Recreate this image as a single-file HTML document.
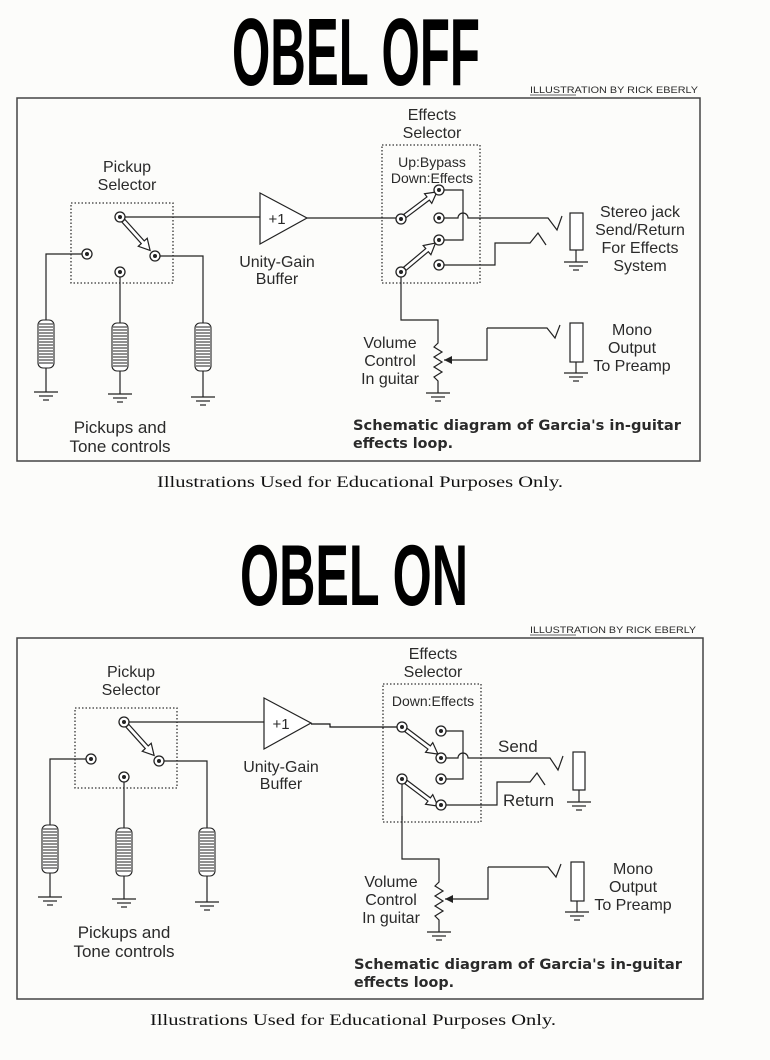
<!DOCTYPE html>
<html><head><meta charset="utf-8"><style>
html,body{margin:0;padding:0;background:#fff;}
svg{display:block;}
text{font-family:"Liberation Sans",sans-serif;fill:#2a2a2a;}
</style></head><body>
<svg width="770" height="1060" viewBox="0 0 770 1060" xmlns="http://www.w3.org/2000/svg">
<defs>
  <g id="ct"><circle r="5" fill="#fff" stroke="#222" stroke-width="1.3"/><circle r="2" fill="#222"/></g>
  <path id="ha" d="M5,-2 L34,-2 L34,-6 L45,0 L34,6 L34,2 L5,2 Z" fill="#fff" stroke="#222" stroke-width="1.2"/>
  <g id="gnd" stroke="#222" stroke-width="1.2"><line x1="-12" y1="0" x2="12" y2="0"/><line x1="-7" y1="4" x2="7" y2="4"/><line x1="-3" y1="8" x2="3" y2="8"/></g>
  <g id="coil" stroke="#222" stroke-width="1.1" fill="#fff">
    <rect x="-8" y="0" width="16" height="48" rx="5"/>
    <path d="M-7,4H7M-7,7H7M-7,10H7M-7,13H7M-7,16H7M-7,19H7M-7,22H7M-7,25H7M-7,28H7M-7,31H7M-7,34H7M-7,37H7M-7,40H7M-7,43H7" fill="none"/>
  </g>
  <g id="left">
    <text x="127" y="172" font-size="16" text-anchor="middle">Pickup</text>
    <text x="127" y="190" font-size="16" text-anchor="middle">Selector</text>
    <rect x="71" y="203" width="102" height="80" fill="none" stroke="#333" stroke-width="1.3" stroke-dasharray="1.5,2"/>
    <g stroke="#222" stroke-width="1.2" fill="none">
      <path d="M120,217H260"/>
      <path d="M87,254H46V320M46,368V392"/>
      <path d="M120,272V323M120,371V394"/>
      <path d="M155,256H203V323M203,371V397"/>
      <path d="M260,193L307,218L260,244Z" fill="#fff"/>
    </g>
    <use href="#ha" transform="translate(120,217) rotate(48)"/>
    <use href="#ct" x="120" y="217"/><use href="#ct" x="87" y="254"/><use href="#ct" x="120" y="272"/><use href="#ct" x="155" y="256"/>
    <use href="#coil" x="46" y="320"/><use href="#coil" x="120" y="323"/><use href="#coil" x="203" y="323"/>
    <use href="#gnd" x="46" y="392"/><use href="#gnd" x="120" y="394"/><use href="#gnd" x="203" y="397"/>
    <text x="277" y="224" font-size="15" text-anchor="middle">+1</text>
    <text x="277" y="267" font-size="16" text-anchor="middle">Unity-Gain</text>
    <text x="277" y="284" font-size="16" text-anchor="middle">Buffer</text>
    <text x="120" y="433" font-size="17" text-anchor="middle">Pickups and</text>
    <text x="120" y="452" font-size="17" text-anchor="middle">Tone controls</text>
  </g>
  <g id="vol">
    <text x="432" y="120" font-size="16" text-anchor="middle">Effects</text>
    <text x="432" y="138" font-size="16" text-anchor="middle">Selector</text>
    <rect x="382" y="145" width="98" height="138" fill="none" stroke="#333" stroke-width="1.3" stroke-dasharray="1.5,2"/>
    <g stroke="#222" stroke-width="1.2" fill="none">
      <path d="M401,277V320H438V343L434,347L442,352L434,357L442,362L434,367L442,372L434,377L438,381V393"/>
      <path d="M487,328V360H444"/>
      <path d="M487,328H547L555,338L560,325"/>
      <rect x="570" y="323" width="13" height="39" fill="#fff"/>
      <path d="M576,362V373"/>
    </g>
    <path d="M444,360L452,356L452,364Z" fill="#222"/>
    <use href="#gnd" x="438" y="393"/><use href="#gnd" x="576" y="373"/>
    <text x="390" y="348" font-size="16" text-anchor="middle">Volume</text>
    <text x="390" y="366" font-size="16" text-anchor="middle">Control</text>
    <text x="390" y="384" font-size="16" text-anchor="middle">In guitar</text>
    <text x="632" y="335" font-size="16" text-anchor="middle">Mono</text>
    <text x="632" y="353" font-size="16" text-anchor="middle">Output</text>
    <text x="632" y="371" font-size="16" text-anchor="middle">To Preamp</text>
    <text x="353" y="430" font-size="14" font-weight="bold" textLength="328" lengthAdjust="spacingAndGlyphs" style="font-family:'DejaVu Sans',sans-serif">Schematic diagram of Garcia's in-guitar</text>
    <text x="353" y="448" font-size="14" font-weight="bold" textLength="100" lengthAdjust="spacingAndGlyphs" style="font-family:'DejaVu Sans',sans-serif">effects loop.</text>
  </g>
</defs>
<rect width="770" height="1060" fill="#fcfcfa"/>

<!-- TOP -->
<text x="232" y="85" font-size="96" font-weight="bold" textLength="248" lengthAdjust="spacingAndGlyphs" style="fill:#000">OBEL OFF</text>
<text x="530" y="93" font-size="9.5" textLength="168" lengthAdjust="spacingAndGlyphs">ILLUSTRATION BY RICK EBERLY</text>
<line x1="530" y1="95" x2="576" y2="95" stroke="#333" stroke-width="0.8"/>
<rect x="17" y="98" width="683" height="363" fill="none" stroke="#444" stroke-width="1.5"/>
<use href="#left"/>
<use href="#vol"/>
<path d="M307,218H396" stroke="#222" stroke-width="1.2" fill="none"/>
<text x="432" y="167" font-size="14" text-anchor="middle">Up:Bypass</text>
<text x="432" y="183" font-size="14" text-anchor="middle">Down:Effects</text>
<g stroke="#222" stroke-width="1.2" fill="none">
  <path d="M439,190H463V240H439"/>
  <path d="M439,218H458A5,5 0 0 1 468,218H548L557,230L562,216"/>
  <path d="M439,265H495V243H530L538,233L546,245"/>
  <rect x="570" y="213" width="13" height="37" fill="#fff"/>
  <path d="M576,250V262"/>
</g>
<use href="#gnd" x="576" y="262"/>
<use href="#ha" transform="translate(401,219) rotate(-37)"/>
<use href="#ha" transform="translate(401,272) rotate(-40)"/>
<use href="#ct" x="401" y="219"/><use href="#ct" x="439" y="190"/><use href="#ct" x="439" y="218"/><use href="#ct" x="439" y="240"/><use href="#ct" x="401" y="272"/><use href="#ct" x="439" y="265"/>
<text x="640" y="217" font-size="16" text-anchor="middle">Stereo jack</text>
<text x="640" y="235" font-size="16" text-anchor="middle">Send/Return</text>
<text x="640" y="253" font-size="16" text-anchor="middle">For Effects</text>
<text x="640" y="271" font-size="16" text-anchor="middle">System</text>
<text x="157" y="487" font-size="16" textLength="406" lengthAdjust="spacingAndGlyphs" style="font-family:'Liberation Serif',serif;fill:#111">Illustrations Used for Educational Purposes Only.</text>

<!-- BOTTOM -->
<text x="240" y="605" font-size="86" font-weight="bold" textLength="228" lengthAdjust="spacingAndGlyphs" style="fill:#000">OBEL ON</text>
<text x="530" y="633" font-size="9.5" textLength="166" lengthAdjust="spacingAndGlyphs">ILLUSTRATION BY RICK EBERLY</text>
<line x1="530" y1="635" x2="576" y2="635" stroke="#333" stroke-width="0.8"/>
<rect x="17" y="638" width="686" height="361" fill="none" stroke="#444" stroke-width="1.5"/>
<use href="#left" transform="translate(4,505)"/>
<use href="#vol" transform="translate(1,539)"/>
<path d="M402,784V820" stroke="#222" stroke-width="1.2" fill="none"/>
<path d="M311,724H330V727H397" stroke="#111" stroke-width="1.2" fill="none"/>
<text x="433" y="706" font-size="14" text-anchor="middle">Down:Effects</text>
<g stroke="#222" stroke-width="1.2" fill="none">
  <path d="M441,731H463V779H441"/>
  <path d="M441,758H458A5,5 0 0 1 468,758H550L558,770L563,756"/>
  <path d="M441,805H497V782H530L537,773L545,785"/>
  <rect x="573" y="752" width="12" height="38" fill="#fff"/>
  <path d="M579,790V802"/>
</g>
<use href="#gnd" x="579" y="802"/>
<use href="#ha" transform="translate(402,727) rotate(37)"/>
<use href="#ha" transform="translate(402,779) rotate(37)"/>
<use href="#ct" x="402" y="727"/><use href="#ct" x="441" y="731"/><use href="#ct" x="441" y="758"/><use href="#ct" x="441" y="779"/><use href="#ct" x="402" y="779"/><use href="#ct" x="441" y="805"/>
<text x="498" y="752" font-size="17">Send</text>
<text x="503" y="806" font-size="17">Return</text>
<text x="150" y="1025" font-size="16" textLength="406" lengthAdjust="spacingAndGlyphs" style="font-family:'Liberation Serif',serif;fill:#111">Illustrations Used for Educational Purposes Only.</text>
</svg>
</body></html>
